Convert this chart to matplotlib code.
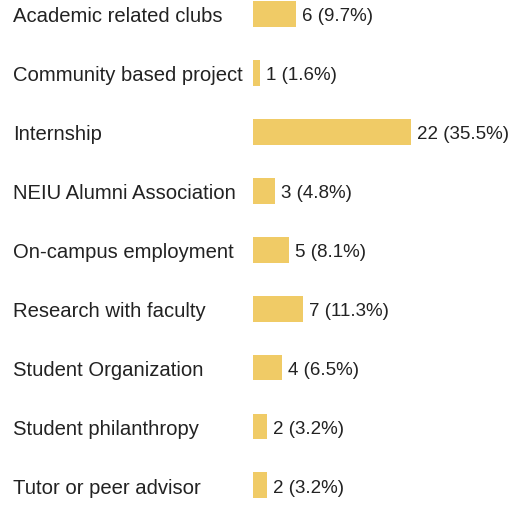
import matplotlib.pyplot as plt
from matplotlib.transforms import blended_transform_factory

plt.rcParams['font.family'] = ['Liberation Sans', 'DejaVu Sans']

# --- data ---
categories = ['Academic related clubs', 'Community based project', 'Internship',
              'NEIU Alumni Association', 'On-campus employment',
              'Research with faculty', 'Student Organization',
              'Student philanthropy', 'Tutor or peer advisor']
counts = [6, 1, 22, 3, 5, 7, 4, 2, 2]
percents = [9.7, 1.6, 35.5, 4.8, 8.1, 11.3, 6.5, 3.2, 3.2]

W, H = 513, 506
row = 58.97   # px between rows
top = 14.7    # px from top to first row centre

fig = plt.figure(figsize=(W / 100, H / 100), dpi=100)
ax = fig.add_axes([253 / W, 0, 1 - 253 / W, 1])

y = list(range(len(categories)))
ax.barh(y, counts, height=0.44, color='#f0cb66')
ax.set_xlim(0, 260 / 7.18)
ax.set_ylim(8 + (H - top - 8 * row) / row, -top / row)
ax.axis('off')

# labels on the left
trans = blended_transform_factory(fig.transFigure, ax.transData)
for yi, cat in zip(y, categories):
    ax.text(13 / W, yi, cat, transform=trans, ha='left', va='center_baseline',
            fontsize=14.6, color='#222222', clip_on=False)

# value labels
for yi, c, p in zip(y, counts, percents):
    ax.annotate(f'{c} ({p}%)', (c, yi), xytext=(4.3, 0),
                textcoords='offset points', ha='left', va='center_baseline',
                fontsize=13.5, color='#222222')

fig.savefig('out.png', dpi=100)
